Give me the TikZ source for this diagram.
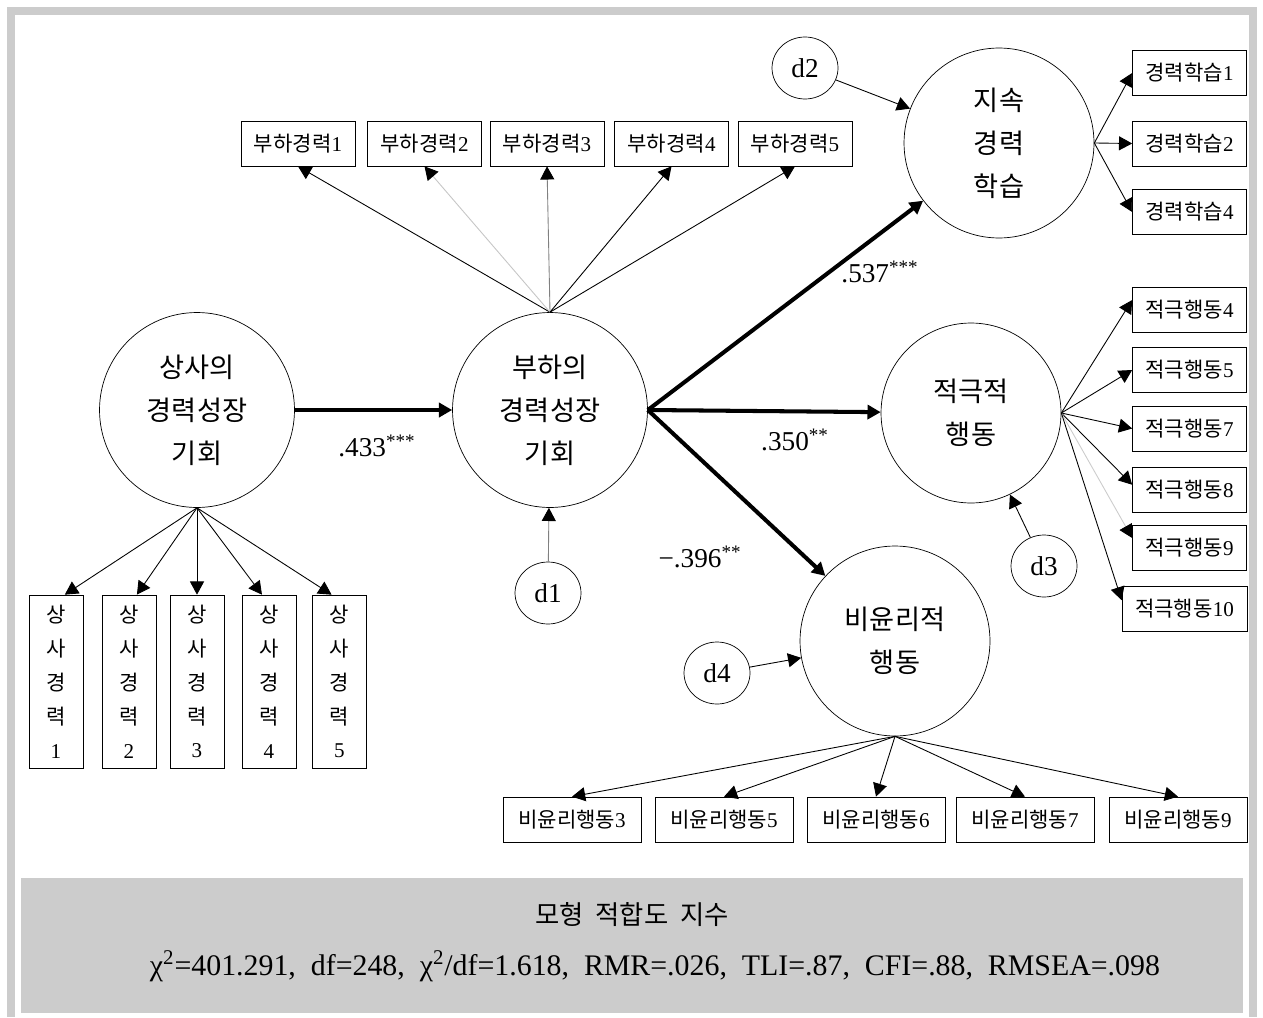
\documentclass[tikz,border=0pt]{standalone}
\usepackage{fontspec}
\setmainfont{Liberation Serif}
\newfontfamily\kr{Noto Sans CJK KR}
\usetikzlibrary{shapes.geometric, arrows.meta}
\newcommand{\ko}[1]{{\kr #1}}
\newcommand{\sangsa}[1]{\ko{상}\\\ko{사}\\\ko{경}\\\ko{력}\\#1}

\begin{document}
\begin{tikzpicture}[x=0.02cm, y=-0.02cm,
    latente/.style={circle, draw, minimum size=3.9cm, inner sep=0pt, align=center, font=\kr\fontsize{15.5}{24.5}\selectfont},
    misura/.style={draw, minimum width=2.28cm, minimum height=0.9cm, inner sep=1pt, font=\fontsize{12}{13}\selectfont},
    verticale/.style={draw, minimum width=1.08cm, minimum height=3.46cm, inner sep=1pt, align=center, font=\fontsize{12}{19.3}\selectfont},
    errore/.style={ellipse, draw, minimum width=1.32cm, minimum height=1.24cm, inner sep=0pt, font=\fontsize{15.5}{17}\selectfont},
    carico/.style={-{Triangle[length=7.5pt,width=8pt,color=black]}, line width=0.5pt},
    percorso/.style={-{Triangle[length=7.5pt,width=8pt]}, line width=2.3pt},
    coeff/.style={font=\fontsize{15.5}{17}\selectfont}]
    \useasboundingbox (0,0) rectangle (1263,1017);

    % Cornice
    \fill[gray!40] (7,7) rectangle (1257,1017);
    \fill[white] (15,15) rectangle (1249,1017);
    \fill[gray!40] (21,878) rectangle (1243,1013);

    % Variabili latenti
    \node[latente] (sa) at (197,410) {상사의\\경력성장\\기회};
    \node[latente] (bu) at (550,410) {부하의\\경력성장\\기회};
    \node[latente, minimum size=3.8cm] (ji) at (999,143) {지속\\경력\\학습};
    \node[latente, minimum size=3.6cm] (jg) at (971,413) {적극적\\행동};
    \node[latente, minimum size=3.8cm] (bi) at (895,641) {비윤리적\\행동};

    % Errori
    \node[errore] (d1) at (548,593) {d1};
    \node[errore] (d2) at (805,68) {d2};
    \node[errore] (d3) at (1044,566) {d3};
    \node[errore] (d4) at (717,673) {d4};

    % Indicatori
    \foreach \n/\x in {1/298, 2/424.5, 3/547, 4/671.5, 5/795}{
        \node[misura] (b\n) at (\x,143.5) {\ko{부하경력}\n};
    };
    \foreach \n/\x in {1/56, 2/129, 3/197, 4/269, 5/339.5}{
        \node[verticale] (s\n) at (\x,681.5) {\sangsa{\n}};
    };
    \foreach \n/\y in {1/73, 2/143.5, 4/212}{
        \node[misura] (l\n) at (1189.5,\y) {\ko{경력학습}\n};
    };
    \foreach \n/\y in {4/309.5, 5/370, 7/428.5, 8/490, 9/548}{
        \node[misura] (a\n) at (1189.5,\y) {\ko{적극행동}\n};
    };
    \node[misura, minimum width=2.5cm] (a10) at (1184.5,609) {\ko{적극행동}10};
    \foreach \n/\x in {3/572, 5/724, 6/876, 7/1025, 9/1178}{
        \node[misura, minimum width=2.76cm] (e\n) at (\x,819.5) {\ko{비윤리행동}\n};
    };

    % Carichi
    \foreach \n/\c in {1/black, 2/gray!45, 3/gray, 4/black, 5/black}{
        \draw[carico, \c] (bu.north) -- (b\n.south);
    };
    \foreach \n/\s in {1/5pt, 2/4.5pt, 3/0pt, 4/-4pt, 5/-4.5pt}{
        \draw[carico] (sa.south) -- ([xshift=\s]s\n.north);
    };
    \foreach \n in {1,2,4}{
        \draw[carico] (ji.east) -- (l\n.west);
    };
    \foreach \n/\s/\c in {4/5.4pt/black, 5/0pt/black, 7/0pt/black, 8/3pt/black, 9/5.7pt/gray!40, 10/5pt/black}{
        \draw[carico, \c] (jg.east) -- ([yshift=\s]a\n.west);
    };
    \foreach \n in {3,5,6,7,9}{
        \draw[carico] (bi.south) -- (e\n.north);
    };

    % Errori -> latenti
    \draw[carico, gray] (d1) -- (bu);
    \draw[carico] (d2) -- (ji);
    \draw[carico] (d3) -- (jg);
    \draw[carico] (d4) -- (bi);

    % Percorsi strutturali
    \draw[percorso] (sa) -- (bu);
    \draw[percorso] (bu.east) -- (ji);
    \draw[percorso] (bu.east) -- (jg);
    \draw[percorso] (bu.east) -- (bi);
    \node[coeff] (c1) at (377,446) {.433\textsuperscript{***}};
    \node[coeff] (c2) at (880,272) {.537\textsuperscript{***}};
    \node[coeff] (c3) at (795,440) {.350\textsuperscript{**}};
    \node[coeff] (c4) at (700,557) {−.396\textsuperscript{**}};

    % Indici di adattamento
    \node[font=\kr\fontsize{15}{17}\selectfont] (fit) at (632,915) {모형\ \ 적합도\ \ 지수};
    \node[font=\fontsize{17}{19}\selectfont] (ind) at (655,966) {χ\textsuperscript{2}=401.291,\ \ df=248,\ \ χ\textsuperscript{2}/df=1.618,\ \ RMR=.026,\ \ TLI=.87,\ \ CFI=.88,\ \ RMSEA=.098};
\end{tikzpicture}
\end{document}
